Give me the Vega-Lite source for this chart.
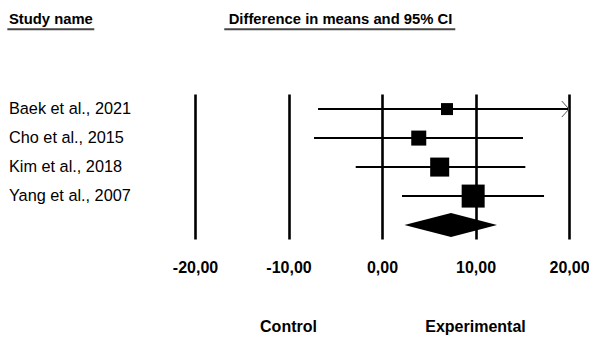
{
  "$schema": "https://vega.github.io/schema/vega-lite/v6.json",
  "width": 374,
  "height": 145,
  "autosize": {"type": "none"},
  "padding": {"left": 195, "top": 94, "right": 20, "bottom": 98},
  "background": "white",
  "config": {"view": {"stroke": null}, "font": "Liberation Sans"},
  "datasets": {
    "studies": [
      {"study": "Baek et al., 2021", "row": 1, "mean": 6.95, "lower": -6.84, "upper": 20.74, "weight": 11.4},
      {"study": "Cho et al., 2015", "row": 2, "mean": 3.93, "lower": -7.27, "upper": 15.08, "weight": 17.9},
      {"study": "Kim et al., 2018", "row": 3, "mean": 6.17, "lower": -2.81, "upper": 15.33, "weight": 28.7},
      {"study": "Yang et al., 2007", "row": 4, "mean": 9.75, "lower": 2.14, "upper": 17.33, "weight": 42.0}
    ],
    "summary": [
      {"study": "Summary", "row": 5, "mean": 7.38, "lower": 2.4, "upper": 12.3}
    ]
  },
  "layer": [
    {
      "data": {"name": "studies"},
      "mark": {"type": "rule", "color": "black", "strokeWidth": 2, "clip": true},
      "encoding": {
        "x": {
          "field": "lower", "type": "quantitative",
          "scale": {"domain": [-20, 20], "nice": false, "zero": false},
          "axis": {
            "values": [-20, -10, 0, 10, 20],
            "grid": true, "gridColor": "black", "gridWidth": 2.6, "gridOpacity": 1,
            "domain": false, "ticks": false, "tickSize": 0,
            "labelPadding": 20, "labelFontSize": 16, "labelFontWeight": "bold",
            "labelColor": "black", "labelFont": "Liberation Sans",
            "labelFlush": false, "labelOverlap": false,
            "labelExpr": "replace(replace(format(datum.value, '.2f'), '.', ','), '\u2212', '-')",
            "title": null
          }
        },
        "x2": {"field": "upper"},
        "y": {
          "field": "row", "type": "quantitative",
          "scale": {"domain": [0.48, 5.48], "nice": false, "zero": false, "reverse": true},
          "axis": null
        }
      }
    },
    {
      "data": {"name": "studies"},
      "transform": [{"filter": "datum.upper > 20"}],
      "mark": {"type": "point", "shape": "M-0.9,-1L0,0L-0.9,1", "filled": false, "stroke": "#555555", "strokeWidth": 1, "size": 256, "opacity": 1},
      "encoding": {
        "x": {"datum": 20, "type": "quantitative"},
        "y": {"field": "row", "type": "quantitative"}
      }
    },
    {
      "data": {"name": "studies"},
      "mark": {"type": "point", "shape": "square", "filled": true, "color": "black", "opacity": 1, "strokeWidth": 0},
      "encoding": {
        "x": {"field": "mean", "type": "quantitative"},
        "y": {"field": "row", "type": "quantitative"},
        "size": {
          "field": "weight", "type": "quantitative",
          "scale": {"type": "linear", "domain": [0, 50], "range": [0, 630], "zero": true},
          "legend": null
        }
      }
    },
    {
      "data": {"name": "summary"},
      "transform": [
        {"fold": ["lower", "mean", "upper"], "as": ["key", "xval"]},
        {"calculate": "datum.key === 'mean' ? datum.row - 0.414 : datum.row", "as": "ytop"},
        {"calculate": "datum.key === 'mean' ? datum.row + 0.414 : datum.row", "as": "ybot"}
      ],
      "mark": {"type": "area", "color": "black", "opacity": 1, "orient": "vertical"},
      "encoding": {
        "x": {"field": "xval", "type": "quantitative"},
        "y": {"field": "ytop", "type": "quantitative", "stack": null},
        "y2": {"field": "ybot"}
      }
    },
    {
      "data": {"name": "studies"},
      "mark": {"type": "text", "align": "left", "baseline": "middle", "fontSize": 16.3, "color": "black"},
      "encoding": {
        "x": {"datum": -39.9, "type": "quantitative"},
        "y": {"field": "row", "type": "quantitative"},
        "text": {"field": "study"}
      }
    },
    {
      "data": {"values": [{"label": "Study name"}]},
      "mark": {"type": "text", "align": "left", "baseline": "middle", "fontSize": 14.8, "fontWeight": "bold", "color": "black"},
      "encoding": {
        "x": {"datum": -39.9, "type": "quantitative"},
        "y": {"datum": -2.08, "type": "quantitative"},
        "text": {"field": "label"}
      }
    },
    {
      "data": {"values": [{"label": "Difference in means and 95% CI"}]},
      "mark": {"type": "text", "align": "left", "baseline": "middle", "fontSize": 14.8, "fontWeight": "bold", "color": "black"},
      "encoding": {
        "x": {"datum": -16.4, "type": "quantitative"},
        "y": {"datum": -2.08, "type": "quantitative"},
        "text": {"field": "label"}
      }
    },
    {
      "data": {"values": [{"underline": "Study name"}]},
      "mark": {"type": "rule", "color": "#444444", "strokeWidth": 2},
      "encoding": {
        "x": {"datum": -40.07, "type": "quantitative"},
        "x2": {"datum": -30.77},
        "y": {"datum": -1.75, "type": "quantitative"}
      }
    },
    {
      "data": {"values": [{"underline": "Difference in means and 95% CI"}]},
      "mark": {"type": "rule", "color": "#444444", "strokeWidth": 2},
      "encoding": {
        "x": {"datum": -16.87, "type": "quantitative"},
        "x2": {"datum": 7.84},
        "y": {"datum": -1.75, "type": "quantitative"}
      }
    },
    {
      "data": {"values": [{"label": "Control"}]},
      "mark": {"type": "text", "align": "center", "baseline": "middle", "fontSize": 16, "fontWeight": "bold", "color": "black"},
      "encoding": {
        "x": {"datum": -10, "type": "quantitative"},
        "y": {"datum": 8.51, "type": "quantitative"},
        "text": {"field": "label"}
      }
    },
    {
      "data": {"values": [{"label": "Experimental"}]},
      "mark": {"type": "text", "align": "center", "baseline": "middle", "fontSize": 16, "fontWeight": "bold", "color": "black"},
      "encoding": {
        "x": {"datum": 10, "type": "quantitative"},
        "y": {"datum": 8.51, "type": "quantitative"},
        "text": {"field": "label"}
      }
    }
  ]
}
